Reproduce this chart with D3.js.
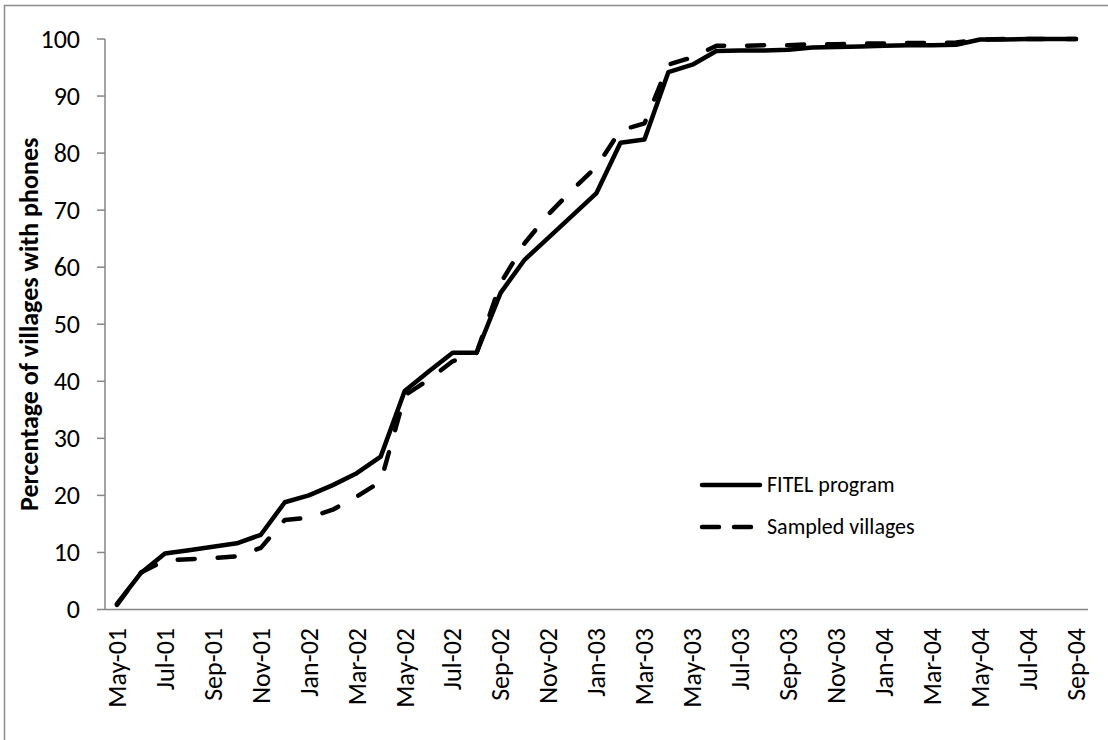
<!DOCTYPE html>
<html>
<head>
<meta charset="utf-8">
<script src="https://cdn.jsdelivr.net/npm/d3@7"></script>
<style>
  body { margin: 0; background: #fff; }
  text { font-family: Carlito, "Open Sans", sans-serif; fill: #000; }
</style>
</head>
<body>
<svg id="chart" width="1108" height="740"></svg>
<script>
// month categories (one slot per month, labels every second month)
const months = [
  "May-01","Jun-01","Jul-01","Aug-01","Sep-01","Oct-01","Nov-01","Dec-01",
  "Jan-02","Feb-02","Mar-02","Apr-02","May-02","Jun-02","Jul-02","Aug-02","Sep-02","Oct-02","Nov-02","Dec-02",
  "Jan-03","Feb-03","Mar-03","Apr-03","May-03","Jun-03","Jul-03","Aug-03","Sep-03","Oct-03","Nov-03","Dec-03",
  "Jan-04","Feb-04","Mar-04","Apr-04","May-04","Jun-04","Jul-04","Aug-04","Sep-04"
];

const fitel = [
  1.0, 6.4, 9.8, 10.4, 11.0, 11.6, 13.1, 18.8,
  20.0, 21.8, 23.9, 26.8, 38.3, 41.7, 45.0, 45.0, 55.5, 61.3, 65.2, 69.1,
  73.0, 81.8, 82.4, 94.2, 95.5, 97.9, 98.0, 98.0, 98.1, 98.5, 98.6, 98.7,
  98.8, 98.9, 98.9, 99.0, 99.9, 99.9, 100, 100, 100
];

const sampled = [
  0.8, 6.5, 8.6, 8.8, 9.0, 9.3, 10.8, 15.7,
  16.1, 17.5, 19.8, 22.4, 37.5, 40.3, 43.5, 45.0, 57.2, 64.2, 69.3, 73.6,
  77.6, 84.0, 85.2, 95.5, 96.8, 98.8, 98.8, 98.9, 98.9, 99.1, 99.1, 99.2,
  99.2, 99.3, 99.3, 99.4, 99.9, 100, 100, 100, 100
];

const yTicks = [0, 10, 20, 30, 40, 50, 60, 70, 80, 90, 100];

const seriesNames = ["FITEL program", "Sampled villages"];

const svg = d3.select("#chart");
const axisColor = "#868686";

// outer frame (runs off right and bottom edge)
svg.append("rect")
  .attr("x", 4.5).attr("y", 5.5)
  .attr("width", 1200).attr("height", 800)
  .style("fill", "none")
  .style("stroke", "#8c8c8c")
  .style("stroke-width", 1.5);

const x = d3.scaleBand()
  .domain(months)
  .range([105, 1088]);

const y = d3.scaleLinear()
  .domain([0, 100])
  .range([609.5, 39]);

const cx = (m) => x(m) + x.bandwidth() / 2;

// y axis
const yAxis = svg.append("g");
yAxis.append("line")
  .attr("x1", 105).attr("x2", 105)
  .attr("y1", y(0)).attr("y2", y(100))
  .style("stroke", axisColor).style("stroke-width", 1.5);

yAxis.selectAll(".ytick")
  .data(yTicks)
  .enter()
  .append("line")
  .attr("class", "ytick")
  .attr("x1", 97).attr("x2", 105)
  .attr("y1", (d) => y(d)).attr("y2", (d) => y(d))
  .style("stroke", axisColor).style("stroke-width", 1.5);

yAxis.selectAll(".ylab")
  .data(yTicks)
  .enter()
  .append("text")
  .attr("class", "ylab")
  .attr("x", 80)
  .attr("y", (d) => y(d))
  .attr("dy", "0.34em")
  .style("text-anchor", "end")
  .style("font-size", "26px")
  .text((d) => d);

// y title
svg.append("text")
  .attr("transform", `translate(38, ${(y(0) + y(100)) / 2}) rotate(-90)`)
  .style("text-anchor", "middle")
  .style("font-size", "26px")
  .style("font-weight", "bold")
  .text("Percentage of villages with phones");

// x axis
svg.append("line")
  .attr("x1", 105).attr("x2", 1088)
  .attr("y1", y(0)).attr("y2", y(0))
  .style("stroke", axisColor).style("stroke-width", 1.5);

svg.selectAll(".xlab")
  .data(months.filter((d, i) => i % 2 === 0))
  .enter()
  .append("text")
  .attr("class", "xlab")
  .attr("transform", (d) => `translate(${cx(d)}, 628) rotate(-90)`)
  .attr("dy", "0.34em")
  .style("text-anchor", "end")
  .style("font-size", "26px")
  .text((d) => d);

// lines
const line = d3.line()
  .x((d, i) => cx(months[i]))
  .y((d) => y(d));

svg.append("path")
  .datum(fitel)
  .attr("d", line)
  .style("fill", "none")
  .style("stroke", "#000")
  .style("stroke-width", 4.5)
  .style("stroke-linejoin", "round")
  .style("stroke-linecap", "round");

svg.append("path")
  .datum(sampled)
  .attr("d", line)
  .style("fill", "none")
  .style("stroke", "#000")
  .style("stroke-width", 4.5)
  .style("stroke-dasharray", "17,23")
  .style("stroke-linejoin", "round")
  .style("stroke-linecap", "round");

// legend
const legend = svg.append("g").attr("transform", "translate(700, 485)");
seriesNames.forEach((name, i) => {
  const row = legend.append("g").attr("transform", `translate(0, ${i * 42})`);
  row.append("line")
    .attr("x1", 2).attr("x2", 60)
    .attr("y1", 0).attr("y2", 0)
    .style("stroke", "#000")
    .style("stroke-width", 4.5)
    .style("stroke-linecap", "round")
    .style("stroke-dasharray", i === 1 ? "17,15" : null);
  row.append("text")
    .attr("x", 67)
    .attr("y", 0)
    .attr("dy", "0.34em")
    .style("font-size", "22px")
    .text(name);
});
</script>
</body>
</html>
